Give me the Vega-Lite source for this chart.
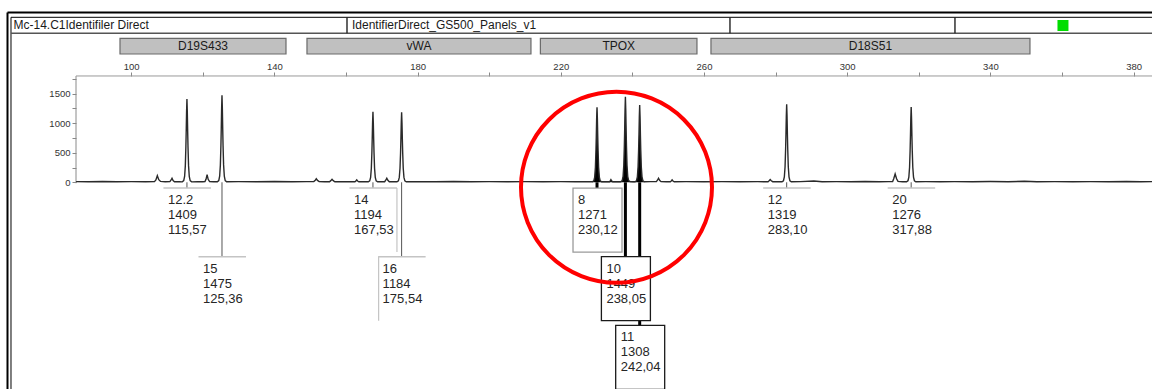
{
"$schema": "https://vega.github.io/schema/vega-lite/v6.json",
"width": 1152, "height": 389, "padding": 0, "autosize": {"type": "none"},
"background": "white",
"config": {"view": {"stroke": null}, "font": "Liberation Sans",
  "locale": {"number": {"decimal": ",", "thousands": ".", "grouping": [3], "currency": ["", " €"]}}},
"datasets": {
 "one": [{"k": 1}],
 "loci": [
  {"locus": "D19S433", "start": 96.87, "end": 143.24, "center": 120.05},
  {"locus": "vWA", "start": 149.1, "end": 211.67, "center": 180.4},
  {"locus": "TPOX", "start": 214.3, "end": 258.04, "center": 236.2},
  {"locus": "D18S51", "start": 261.95, "end": 351.06, "center": 306.5}],
 "alleles": [
  {"locus": "D19S433", "allele": "12.2", "rfu": 1409, "size": 115.57, "row": 1},
  {"locus": "D19S433", "allele": "15", "rfu": 1475, "size": 125.36, "row": 2},
  {"locus": "vWA", "allele": "14", "rfu": 1194, "size": 167.53, "row": 1},
  {"locus": "vWA", "allele": "16", "rfu": 1184, "size": 175.54, "row": 2},
  {"locus": "TPOX", "allele": "8", "rfu": 1271, "size": 230.12, "row": 1},
  {"locus": "TPOX", "allele": "10", "rfu": 1449, "size": 238.05, "row": 2},
  {"locus": "TPOX", "allele": "11", "rfu": 1308, "size": 242.04, "row": 3},
  {"locus": "D18S51", "allele": "12", "rfu": 1319, "size": 283.10, "row": 1},
  {"locus": "D18S51", "allele": "20", "rfu": 1276, "size": 317.88, "row": 1}],
 "trace": [
  {"bp":84.6,"rfu":12},{"bp":88,"rfu":10},{"bp":92,"rfu":14},{"bp":96,"rfu":9},{"bp":100,"rfu":12},{"bp":104,"rfu":10},
  {"bp":106.5,"rfu":12},{"bp":106.9,"rfu":40},{"bp":107.3,"rfu":112},{"bp":107.7,"rfu":45},{"bp":108.2,"rfu":15},{"bp":109.5,"rfu":10},
  {"bp":110.8,"rfu":12},{"bp":111.1,"rfu":35},{"bp":111.4,"rfu":68},{"bp":111.7,"rfu":30},{"bp":112.1,"rfu":10},{"bp":113.5,"rfu":9},
  {"bp":114.27,"rfu":8},{"bp":114.67,"rfu":28},{"bp":114.92,"rfu":99},{"bp":115.12,"rfu":282},{"bp":115.27,"rfu":592},{"bp":115.37,"rfu":874},{"bp":115.47,"rfu":1198},{"bp":115.57,"rfu":1409},{"bp":115.67,"rfu":1198},{"bp":115.77,"rfu":874},{"bp":115.87,"rfu":592},{"bp":116.02,"rfu":282},{"bp":116.22,"rfu":99},{"bp":116.47,"rfu":28},{"bp":116.87,"rfu":8},
  {"bp":118.5,"rfu":10},{"bp":120,"rfu":9},
  {"bp":120.6,"rfu":12},{"bp":120.9,"rfu":50},{"bp":121.2,"rfu":129},{"bp":121.5,"rfu":50},{"bp":121.9,"rfu":12},{"bp":123,"rfu":9},
  {"bp":124.06,"rfu":9},{"bp":124.46,"rfu":30},{"bp":124.71,"rfu":103},{"bp":124.91,"rfu":295},{"bp":125.06,"rfu":620},{"bp":125.16,"rfu":915},{"bp":125.26,"rfu":1254},{"bp":125.36,"rfu":1475},{"bp":125.46,"rfu":1254},{"bp":125.56,"rfu":915},{"bp":125.66,"rfu":620},{"bp":125.81,"rfu":295},{"bp":126.01,"rfu":103},{"bp":126.26,"rfu":30},{"bp":126.66,"rfu":10},
  {"bp":130,"rfu":12},{"bp":135,"rfu":9},{"bp":140,"rfu":13},{"bp":145,"rfu":10},{"bp":149,"rfu":12},
  {"bp":151.0,"rfu":12},{"bp":151.35,"rfu":30},{"bp":151.7,"rfu":60},{"bp":152.05,"rfu":32},{"bp":152.5,"rfu":12},{"bp":154,"rfu":10},
  {"bp":155.4,"rfu":10},{"bp":155.75,"rfu":28},{"bp":156.1,"rfu":50},{"bp":156.45,"rfu":28},{"bp":156.9,"rfu":10},{"bp":159,"rfu":9},{"bp":161,"rfu":11},
  {"bp":162.5,"rfu":10},{"bp":162.75,"rfu":22},{"bp":163.0,"rfu":40},{"bp":163.25,"rfu":22},{"bp":163.6,"rfu":9},{"bp":165,"rfu":10},
  {"bp":166.23,"rfu":9},{"bp":166.63,"rfu":24},{"bp":166.88,"rfu":84},{"bp":167.08,"rfu":239},{"bp":167.23,"rfu":501},{"bp":167.33,"rfu":740},{"bp":167.43,"rfu":1015},{"bp":167.53,"rfu":1194},{"bp":167.63,"rfu":1015},{"bp":167.73,"rfu":740},{"bp":167.83,"rfu":501},{"bp":167.98,"rfu":239},{"bp":168.18,"rfu":84},{"bp":168.43,"rfu":24},{"bp":168.83,"rfu":9},
  {"bp":170.2,"rfu":10},{"bp":170.8,"rfu":10},{"bp":171.1,"rfu":35},{"bp":171.4,"rfu":68},{"bp":171.7,"rfu":35},{"bp":172.1,"rfu":10},{"bp":173.4,"rfu":9},
  {"bp":174.24,"rfu":9},{"bp":174.64,"rfu":24},{"bp":174.89,"rfu":83},{"bp":175.09,"rfu":237},{"bp":175.24,"rfu":497},{"bp":175.34,"rfu":734},{"bp":175.44,"rfu":1006},{"bp":175.54,"rfu":1184},{"bp":175.64,"rfu":1006},{"bp":175.74,"rfu":734},{"bp":175.84,"rfu":497},{"bp":175.99,"rfu":237},{"bp":176.19,"rfu":83},{"bp":176.44,"rfu":24},{"bp":176.84,"rfu":9},
  {"bp":180,"rfu":12},{"bp":185,"rfu":9},{"bp":190,"rfu":13},{"bp":195,"rfu":10},{"bp":200,"rfu":12},{"bp":205,"rfu":9},{"bp":210,"rfu":11},{"bp":215,"rfu":10},{"bp":220,"rfu":12},{"bp":224,"rfu":9},{"bp":228,"rfu":10},
  {"bp":228.82,"rfu":9},{"bp":229.22,"rfu":25},{"bp":229.47,"rfu":89},{"bp":229.67,"rfu":254},{"bp":229.82,"rfu":534},{"bp":229.92,"rfu":788},{"bp":230.02,"rfu":1080},{"bp":230.12,"rfu":1271},{"bp":230.22,"rfu":1080},{"bp":230.32,"rfu":788},{"bp":230.42,"rfu":534},{"bp":230.57,"rfu":254},{"bp":230.77,"rfu":89},{"bp":231.02,"rfu":25},{"bp":231.42,"rfu":9},
  {"bp":232.8,"rfu":10},{"bp":233.6,"rfu":10},{"bp":233.8,"rfu":25},{"bp":234.0,"rfu":45},{"bp":234.2,"rfu":25},{"bp":234.5,"rfu":10},{"bp":235.6,"rfu":9},
  {"bp":236.75,"rfu":9},{"bp":237.15,"rfu":29},{"bp":237.4,"rfu":101},{"bp":237.6,"rfu":290},{"bp":237.75,"rfu":609},{"bp":237.85,"rfu":898},{"bp":237.95,"rfu":1232},{"bp":238.05,"rfu":1449},{"bp":238.15,"rfu":1232},{"bp":238.25,"rfu":898},{"bp":238.35,"rfu":609},{"bp":238.5,"rfu":290},{"bp":238.7,"rfu":101},{"bp":238.95,"rfu":29},{"bp":239.35,"rfu":12},{"bp":240.2,"rfu":10},
  {"bp":240.74,"rfu":10},{"bp":241.14,"rfu":26},{"bp":241.39,"rfu":92},{"bp":241.59,"rfu":262},{"bp":241.74,"rfu":549},{"bp":241.84,"rfu":811},{"bp":241.94,"rfu":1112},{"bp":242.04,"rfu":1308},{"bp":242.14,"rfu":1112},{"bp":242.24,"rfu":811},{"bp":242.34,"rfu":549},{"bp":242.49,"rfu":262},{"bp":242.69,"rfu":92},{"bp":242.94,"rfu":26},{"bp":243.34,"rfu":10},
  {"bp":245,"rfu":11},{"bp":246.7,"rfu":11},{"bp":247.0,"rfu":35},{"bp":247.3,"rfu":68},{"bp":247.6,"rfu":35},{"bp":248.0,"rfu":11},{"bp":249.5,"rfu":10},
  {"bp":250.6,"rfu":10},{"bp":250.85,"rfu":22},{"bp":251.1,"rfu":40},{"bp":251.35,"rfu":22},{"bp":251.7,"rfu":9},{"bp":255,"rfu":11},{"bp":260,"rfu":9},{"bp":265,"rfu":12},{"bp":270,"rfu":10},{"bp":275,"rfu":11},
  {"bp":277.9,"rfu":10},{"bp":278.2,"rfu":25},{"bp":278.5,"rfu":45},{"bp":278.8,"rfu":25},{"bp":279.2,"rfu":10},{"bp":281,"rfu":9},
  {"bp":281.8,"rfu":9},{"bp":282.2,"rfu":26},{"bp":282.45,"rfu":92},{"bp":282.65,"rfu":264},{"bp":282.8,"rfu":554},{"bp":282.9,"rfu":818},{"bp":283.0,"rfu":1121},{"bp":283.1,"rfu":1319},{"bp":283.2,"rfu":1121},{"bp":283.3,"rfu":818},{"bp":283.4,"rfu":554},{"bp":283.55,"rfu":264},{"bp":283.75,"rfu":92},{"bp":284.0,"rfu":26},{"bp":284.4,"rfu":9},
  {"bp":287,"rfu":12},{"bp":290.7,"rfu":22},{"bp":293,"rfu":10},{"bp":297,"rfu":12},{"bp":301,"rfu":9},{"bp":305,"rfu":13},{"bp":309,"rfu":10},{"bp":311.5,"rfu":12},
  {"bp":312.7,"rfu":14},{"bp":313.0,"rfu":60},{"bp":313.4,"rfu":140},{"bp":313.8,"rfu":60},{"bp":314.2,"rfu":15},{"bp":315.5,"rfu":9},
  {"bp":316.58,"rfu":9},{"bp":316.98,"rfu":26},{"bp":317.23,"rfu":89},{"bp":317.43,"rfu":255},{"bp":317.58,"rfu":536},{"bp":317.68,"rfu":791},{"bp":317.78,"rfu":1085},{"bp":317.88,"rfu":1276},{"bp":317.98,"rfu":1085},{"bp":318.08,"rfu":791},{"bp":318.18,"rfu":536},{"bp":318.33,"rfu":255},{"bp":318.53,"rfu":89},{"bp":318.78,"rfu":26},{"bp":319.18,"rfu":9},
  {"bp":322,"rfu":11},{"bp":326,"rfu":9},{"bp":330,"rfu":12},{"bp":335,"rfu":10},{"bp":340,"rfu":13},{"bp":345,"rfu":10},{"bp":349.5,"rfu":18},{"bp":353,"rfu":10},{"bp":358,"rfu":12},{"bp":363,"rfu":9},{"bp":368,"rfu":12},{"bp":373,"rfu":10},{"bp":378,"rfu":13},{"bp":382,"rfu":10},{"bp":385.15,"rfu":11}
 ]
},
"layer": [
 {"layer": [
  {"data": {"name": "one"}, "mark": {"type": "rule", "color": "#000", "strokeWidth": 2},
   "encoding": {"x": {"datum": 65.445, "type": "quantitative", "title": null}, "x2": {"datum": 385.15},
    "y": {"datum": 2874.6, "type": "quantitative", "title": null}}},
  {"data": {"name": "one"}, "mark": {"type": "rule", "color": "#000", "strokeWidth": 2},
   "encoding": {"x": {"datum": 65.445, "type": "quantitative", "title": null},
    "y": {"datum": 2874.6, "type": "quantitative", "title": null}, "y2": {"datum": -3499.2}}},
  {"data": {"name": "one"}, "mark": {"type": "rule", "color": "#000", "strokeWidth": 1},
   "encoding": {"x": {"datum": 66.42, "type": "quantitative", "title": null},
    "y": {"datum": 2793.3, "type": "quantitative", "title": null}, "y2": {"datum": -3499.2}}},
  {"data": {"name": "one"}, "mark": {"type": "rule", "color": "#000", "strokeWidth": 1},
   "encoding": {"x": {"datum": 66.42, "type": "quantitative", "title": null}, "x2": {"datum": 385.15},
    "y": {"datum": 2793.3, "type": "quantitative", "title": null}}},
  {"data": {"name": "one"}, "mark": {"type": "rule", "color": "#555", "strokeWidth": 1.6},
   "encoding": {"x": {"datum": 66.42, "type": "quantitative", "title": null}, "x2": {"datum": 385.15},
    "y": {"datum": 2522.5, "type": "quantitative", "title": null}}},
  {"data": {"name": "one"}, "mark": {"type": "rule", "color": "#222", "strokeWidth": 1.4},
   "encoding": {"x": {"datum": 160.28, "type": "quantitative", "title": null},
    "y": {"datum": 2793.3, "type": "quantitative", "title": null}, "y2": {"datum": 2522.5}}},
  {"data": {"name": "one"}, "mark": {"type": "rule", "color": "#222", "strokeWidth": 1.4},
   "encoding": {"x": {"datum": 267.26, "type": "quantitative", "title": null},
    "y": {"datum": 2793.3, "type": "quantitative", "title": null}, "y2": {"datum": 2522.5}}},
  {"data": {"name": "one"}, "mark": {"type": "rule", "color": "#222", "strokeWidth": 1.4},
   "encoding": {"x": {"datum": 330.11, "type": "quantitative", "title": null},
    "y": {"datum": 2793.3, "type": "quantitative", "title": null}, "y2": {"datum": 2522.5}}},
  {"data": {"name": "one"}, "mark": {"type": "point", "shape": "square", "size": 121, "filled": true, "color": "#00dd00", "opacity": 1},
   "encoding": {"x": {"datum": 360.28, "type": "quantitative", "title": null},
    "y": {"datum": 2654.5, "type": "quantitative", "title": null}}},
  {"data": {"name": "one"}, "mark": {"type": "text", "text": "Mc-14.C1Identifiler Direct", "fontSize": 12, "align": "left", "baseline": "middle", "color": "#1a1a1a"},
   "encoding": {"x": {"datum": 67.12, "type": "quantitative", "title": null},
    "y": {"datum": 2657.9, "type": "quantitative", "title": null}}},
  {"data": {"name": "one"}, "mark": {"type": "text", "text": "IdentifierDirect_GS500_Panels_v1", "fontSize": 12, "align": "left", "baseline": "middle", "color": "#1a1a1a"},
   "encoding": {"x": {"datum": 161.67, "type": "quantitative", "title": null},
    "y": {"datum": 2657.9, "type": "quantitative", "title": null}}},
  {"data": {"name": "loci"}, "mark": {"type": "rect", "fill": "#c0c0c0", "stroke": "#6a6a6a", "strokeWidth": 1.2},
   "encoding": {"x": {"field": "start", "type": "quantitative", "title": null}, "x2": {"field": "end"},
    "y": {"datum": 2437.8, "type": "quantitative", "title": null}, "y2": {"datum": 2172.0}}},
  {"data": {"name": "loci"}, "mark": {"type": "text", "fontSize": 12, "align": "center", "baseline": "middle", "color": "#1a1a1a"},
   "encoding": {"x": {"field": "center", "type": "quantitative", "title": null},
    "y": {"datum": 2304.1, "type": "quantitative", "title": null},
    "text": {"field": "locus", "type": "nominal"}}},
  {"data": {"name": "one"}, "mark": {"type": "rule", "color": "#8a8a8a", "strokeWidth": 1},
   "encoding": {"x": {"datum": 84.58, "type": "quantitative", "title": null},
    "y": {"datum": -15, "type": "quantitative", "title": null}, "y2": {"datum": 1800}}},
  {"data": {"name": "one"}, "mark": {"type": "rule", "color": "#9a9a9a", "strokeWidth": 1},
   "encoding": {"x": {"datum": 84.58, "type": "quantitative", "title": null}, "x2": {"datum": 385.15},
    "y": {"datum": 1800, "type": "quantitative", "title": null}}},
  {"data": {"name": "trace"}, "transform": [{"filter": "datum.bp >= 228.8 && datum.bp <= 243.4"}],
   "mark": {"type": "area", "color": "#000", "opacity": 1},
   "encoding": {"x": {"field": "bp", "type": "quantitative", "title": null},
    "y": {"field": "rfu", "type": "quantitative", "title": null}}},
  {"data": {"name": "trace"}, "mark": {"type": "line", "color": "#2a2a2a", "strokeWidth": 1.4},
   "encoding": {
    "x": {"field": "bp", "type": "quantitative", "title": null,
      "scale": {"domain": [63.35, 385.15], "nice": false, "zero": false},
      "axis": {"orient": "top", "offset": -76, "title": null, "domain": false, "grid": false,
        "values": [100,120,140,160,180,200,220,240,260,280,300,320,340,360,380],
        "labelExpr": "(datum.value - 100) % 40 == 0 ? datum.label : ''",
        "format": "d", "tickSize": 4, "tickColor": "#888", "labelPadding": 1, "labelFlush": false, "labelOverlap": false,
        "labelFontSize": 9.5, "labelColor": "#333", "labelFont": "Liberation Sans"}},
    "y": {"field": "rfu", "type": "quantitative", "title": null,
      "scale": {"domain": [-3499.2, 3086.2], "nice": false, "zero": false},
      "axis": {"orient": "left", "offset": -76, "title": null, "domain": false, "grid": false,
        "values": [0,250,500,750,1000,1250,1500,1750],
        "labelExpr": "datum.value % 500 == 0 ? datum.label : ''",
        "format": "d", "tickSize": 4, "tickColor": "#888", "labelPadding": 2, "labelOverlap": false,
        "labelFontSize": 9.5, "labelColor": "#333", "labelFont": "Liberation Sans"}}}}
 ]},
 {"layer": [
  {"data": {"name": "alleles"}, "transform": [{"filter": "datum.locus != 'TPOX'"}],
   "mark": {"type": "rule", "color": "#555", "strokeWidth": 1},
   "encoding": {"x": {"field": "size", "type": "quantitative", "title": null},
    "y": {"field": "row", "type": "quantitative", "axis": null, "scale": {"domain": [-1.742, 3.929], "nice": false, "zero": false, "reverse": true}},
    "y2": {"datum": 0.9155}}},
  {"data": {"name": "alleles"}, "transform": [{"filter": "datum.locus == 'TPOX'"}],
   "mark": {"type": "rule", "color": "#000", "strokeWidth": 3},
   "encoding": {"x": {"field": "size", "type": "quantitative", "title": null},
    "y": {"field": "row", "type": "quantitative", "axis": null, "scale": {"domain": [-1.742, 3.929], "nice": false, "zero": false, "reverse": true}},
    "y2": {"datum": 0.9155}}},
  {"data": {"name": "alleles"}, "transform": [{"filter": "datum.locus != 'TPOX'"}],
   "mark": {"type": "rule", "color": "#c4c4c4", "strokeWidth": 1.5, "xOffset": -23.5, "x2Offset": 24},
   "encoding": {"x": {"field": "size", "type": "quantitative", "title": null}, "x2": {"field": "size"},
    "y": {"field": "row", "type": "quantitative", "axis": null, "scale": {"domain": [-1.742, 3.929], "nice": false, "zero": false, "reverse": true}}}},
  {"data": {"name": "alleles"}, "transform": [{"filter": "datum.locus == 'vWA' && datum.allele == '14'"}],
   "mark": {"type": "rule", "color": "#c4c4c4", "strokeWidth": 1.2, "xOffset": 24, "y2Offset": 64},
   "encoding": {"x": {"field": "size", "type": "quantitative", "title": null},
    "y": {"field": "row", "type": "quantitative", "axis": null, "scale": {"domain": [-1.742, 3.929], "nice": false, "zero": false, "reverse": true}},
    "y2": {"field": "row"}}},
  {"data": {"name": "alleles"}, "transform": [{"filter": "datum.locus == 'vWA' && datum.allele == '16'"}],
   "mark": {"type": "rule", "color": "#c4c4c4", "strokeWidth": 1.2, "xOffset": -23, "y2Offset": 64},
   "encoding": {"x": {"field": "size", "type": "quantitative", "title": null},
    "y": {"field": "row", "type": "quantitative", "axis": null, "scale": {"domain": [-1.742, 3.929], "nice": false, "zero": false, "reverse": true}},
    "y2": {"field": "row"}}},
  {"data": {"name": "alleles"}, "transform": [{"filter": "datum.locus == 'TPOX'"}],
   "mark": {"type": "rect", "fill": "#ffffff", "strokeWidth": 1.3, "xOffset": -24, "x2Offset": 25, "y2Offset": 64},
   "encoding": {"x": {"field": "size", "type": "quantitative", "title": null}, "x2": {"field": "size"},
    "y": {"field": "row", "type": "quantitative", "axis": null, "scale": {"domain": [-1.742, 3.929], "nice": false, "zero": false, "reverse": true}},
    "y2": {"field": "row"},
    "stroke": {"condition": {"test": "datum.allele == '8'", "value": "#9a9a9a"}, "value": "#1a1a1a"}}},
  {"data": {"name": "alleles"},
   "mark": {"type": "text", "fontSize": 13, "align": "left", "baseline": "middle", "dx": -19, "dy": 12, "color": "#262626"},
   "encoding": {"x": {"field": "size", "type": "quantitative", "title": null},
    "y": {"field": "row", "type": "quantitative", "axis": null, "scale": {"domain": [-1.742, 3.929], "nice": false, "zero": false, "reverse": true}},
    "text": {"field": "allele", "type": "nominal"}}},
  {"data": {"name": "alleles"},
   "mark": {"type": "text", "fontSize": 13, "align": "left", "baseline": "middle", "dx": -19, "dy": 27, "color": "#262626"},
   "encoding": {"x": {"field": "size", "type": "quantitative", "title": null},
    "y": {"field": "row", "type": "quantitative", "axis": null, "scale": {"domain": [-1.742, 3.929], "nice": false, "zero": false, "reverse": true}},
    "text": {"field": "rfu", "type": "quantitative", "format": "d"}}},
  {"data": {"name": "alleles"},
   "mark": {"type": "text", "fontSize": 13, "align": "left", "baseline": "middle", "dx": -19, "dy": 42, "color": "#262626"},
   "encoding": {"x": {"field": "size", "type": "quantitative", "title": null},
    "y": {"field": "row", "type": "quantitative", "axis": null, "scale": {"domain": [-1.742, 3.929], "nice": false, "zero": false, "reverse": true}},
    "text": {"field": "size", "type": "quantitative", "format": ".2f"}}},
  {"data": {"name": "one"},
   "mark": {"type": "point", "shape": "circle", "size": 36481, "filled": false, "stroke": "#ff0000", "strokeWidth": 4, "opacity": 1, "strokeOpacity": 1},
   "encoding": {"x": {"datum": 235.56, "type": "quantitative", "title": null},
    "y": {"datum": 0.988, "type": "quantitative", "axis": null}}}
 ]}
],
"resolve": {"scale": {"y": "independent"}}
}
